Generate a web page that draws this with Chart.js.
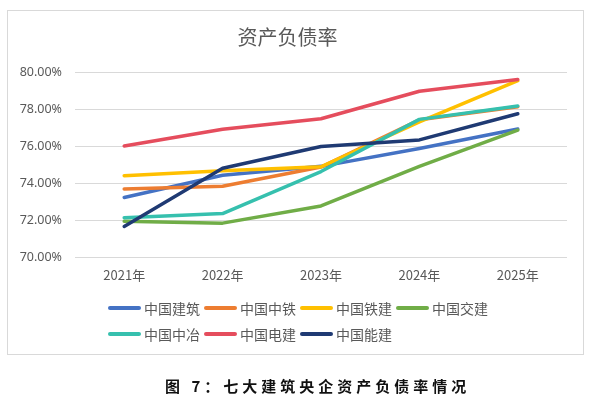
<!DOCTYPE html>
<html>
<head>
<meta charset="utf-8">
<script src="https://cdn.jsdelivr.net/npm/chart.js@4/dist/chart.umd.min.js"></script>
<style>
  html, body { margin: 0; padding: 0; background: #fff; }
  body { width: 591px; height: 405px; position: relative; overflow: hidden; }
  #box { position: absolute; left: 7px; top: 10px; width: 575px; height: 343px; border: 1.5px solid #d9d9d9; }
  #wrap { position: absolute; left: 0; top: 0; width: 591px; height: 405px; }
  #legend { position: absolute; left: 108px; top: 295px; width: 400px; display: flex; flex-wrap: wrap;
            font-family: "Noto Sans CJK SC", sans-serif; font-size: 14px; color: #595959; }
  .item { display: flex; align-items: center; height: 26px; margin-right: 4px; }
  .sw { width: 33px; height: 4px; border-radius: 2px; margin-right: 3px; }
  #caption { position: absolute; left: 165px; top: 375px; white-space: nowrap;
             font-family: "Noto Sans CJK SC", sans-serif; font-weight: bold; font-size: 15px;
             letter-spacing: 4px; color: #111; }
</style>
</head>
<body>
<div id="box"></div>
<div id="wrap"><canvas id="c" width="591" height="405"></canvas></div>
<div id="legend"></div>
<div id="caption">图 7：七大建筑央企资产负债率情况</div>
<script>
const categories = ['2021年', '2022年', '2023年', '2024年', '2025年'];
const seriesNames = ['中国建筑', '中国中铁', '中国铁建', '中国交建', '中国中冶', '中国电建', '中国能建'];
const cscec      = [73.22, 74.42, 74.90, 75.86, 76.92];
const crec       = [73.68, 73.82, 74.86, 77.42, 78.12];
const crcc       = [74.39, 74.66, 74.88, 77.30, 79.53];
const cccc       = [71.93, 71.83, 72.76, 74.90, 76.86];
const mcc        = [72.12, 72.35, 74.62, 77.44, 78.16];
const powerchina = [76.00, 76.90, 77.47, 78.96, 79.60];
const ceec       = [71.65, 74.80, 75.97, 76.33, 77.74];
const yTicks = [70, 72, 74, 76, 78, 80];

const seriesValues = [cscec, crec, crcc, cccc, mcc, powerchina, ceec];
const colors = ['#4472C4', '#ED7D31', '#FFC000', '#70AD47', '#36C0AE', '#E54D5D', '#1F3A73'];

const datasets = seriesNames.map((name, i) => ({
  label: name,
  data: seriesValues[i],
  borderColor: colors[i],
  backgroundColor: colors[i],
  borderWidth: 3.5,
  pointRadius: 0,
  tension: 0,
  fill: false,
  borderCapStyle: 'round',
  borderJoinStyle: 'round',
  order: seriesNames.length - i
}));

new Chart(document.getElementById('c'), {
  type: 'line',
  data: { labels: categories, datasets },
  options: {
    responsive: false,
    animation: false,
    layout: { padding: { left: 8, right: 24, top: 25, bottom: 108 } },
    plugins: {
      legend: { display: false },
      tooltip: { enabled: false },
      title: {
        display: true,
        text: '资产负债率',
        color: '#595959',
        font: { family: '"Noto Sans CJK SC", sans-serif', size: 20, weight: 'normal', lineHeight: 1.2 },
        padding: { top: 0, bottom: 23 }
      }
    },
    scales: {
      x: {
        offset: true,
        grid: { display: false, drawTicks: false },
        border: { display: false },
        ticks: { color: '#595959', font: { family: '"Noto Sans CJK SC", sans-serif', size: 13 }, padding: 10, maxRotation: 0 },
        afterFit: (s) => { s.height = 40; }
      },
      y: {
        min: 70, max: 80,
        afterBuildTicks: (s) => { s.ticks = yTicks.map(v => ({ value: v })); },
        grid: { color: '#d9d9d9', lineWidth: 1, drawTicks: false },
        border: { display: false },
        ticks: {
          color: '#595959',
          font: { family: '"Noto Sans", sans-serif', size: 12.5 },
          padding: 13,
          callback: (v) => v.toFixed(2) + '%'
        },
        afterFit: (s) => { s.width = 67; }
      }
    }
  }
});

const lg = document.getElementById('legend');
seriesNames.forEach((name, i) => {
  const it = document.createElement('div');
  it.className = 'item';
  const sw = document.createElement('div');
  sw.className = 'sw';
  sw.style.background = colors[i];
  const tx = document.createElement('span');
  tx.textContent = name;
  it.appendChild(sw); it.appendChild(tx);
  lg.appendChild(it);
});
</script>
</body>
</html>
